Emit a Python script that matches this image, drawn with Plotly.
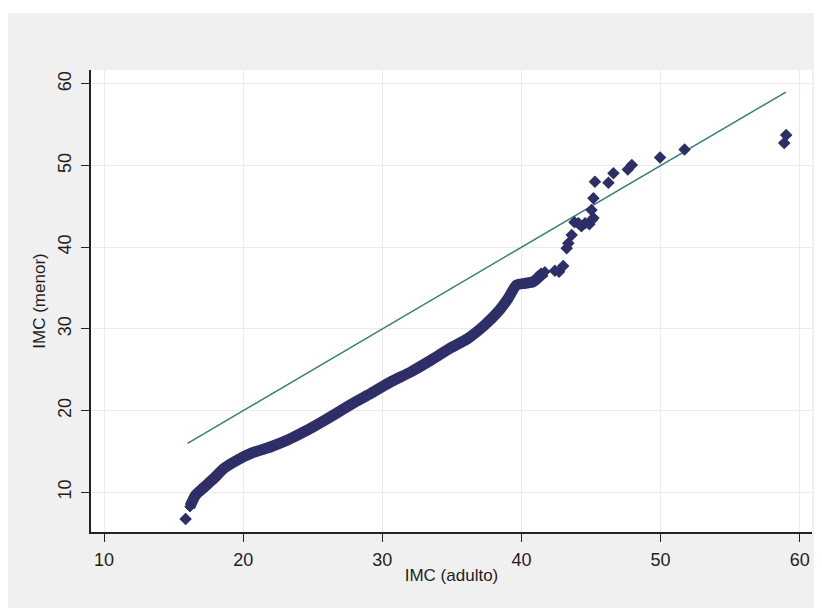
import plotly.graph_objects as go

# Quantiles (dense body of the Q-Q curve)
body_x = [16.17, 16.58, 17.18, 17.90, 18.62, 19.59, 20.55, 21.99, 23.19, 24.39,
          25.83, 27.75, 29.19, 30.63, 32.07, 33.51, 34.95, 36.16, 37.36, 38.32,
          39.04, 39.64, 40.24, 40.84, 41.32, 41.68]
body_y = [8.24, 9.67, 10.61, 11.71, 12.94, 13.95, 14.77, 15.58, 16.40, 17.42,
          18.80, 20.75, 22.12, 23.54, 24.76, 26.19, 27.72, 28.85, 30.48, 32.11,
          33.75, 35.37, 35.58, 35.78, 36.48, 37.00]

# Isolated quantile points (tails)
tail_x = [15.86, 42.40, 42.70, 43.00, 43.25, 43.37, 43.61, 43.81, 44.09, 44.31,
          44.57, 44.88, 45.06, 45.17, 45.03, 45.17, 45.28, 46.25, 46.61, 47.64,
          47.93, 49.96, 51.72, 58.88, 59.02]
tail_y = [6.73, 37.12, 37.00, 37.70, 39.87, 40.48, 41.49, 43.07, 42.93, 42.58,
          42.93, 42.83, 43.33, 43.57, 44.56, 45.99, 48.02, 47.90, 49.05, 49.53,
          50.06, 51.00, 51.98, 52.75, 53.73]

# Reference (45 degree) line
ref_x = [16.0, 59.0]
ref_y = [16.0, 59.0]

x_ticks = [10, 20, 30, 40, 50, 60]
y_ticks = [10, 20, 30, 40, 50, 60]

MARK = "rgb(46,46,104)"
LINE = "rgb(56,128,116)"
FONT = "Liberation Sans, Arial, sans-serif"
TXT = "#1e1e1e"

fig = go.Figure()
fig.add_trace(go.Scatter(x=ref_x, y=ref_y, mode="lines",
                         line=dict(color=LINE, width=1.5), showlegend=False,
                         hoverinfo="skip"))
fig.add_trace(go.Scatter(x=body_x, y=body_y, mode="lines+markers",
                         line=dict(color=MARK, width=11, shape="spline",
                                   smoothing=0.6),
                         marker=dict(symbol="diamond", size=8, color=MARK,
                                     line=dict(color=MARK, width=1)),
                         showlegend=False))
fig.add_trace(go.Scatter(x=tail_x, y=tail_y, mode="markers",
                         marker=dict(symbol="diamond", size=8, color=MARK,
                                     line=dict(color=MARK, width=1.5)),
                         showlegend=False))

# page body has an 8px margin, so the figure is sized to fit the window
W, H = 814, 600
L, R, T, B = 83, 10, 62, 76
pw, ph = W - L - R, H - T - B

shapes = [
    # thin white strip at the very top of the canvas
    dict(type="rect", xref="paper", yref="paper", layer="below",
         x0=-L / pw, x1=(W - L) / pw, y0=1 + (T - 5) / ph, y1=1 + T / ph,
         fillcolor="white", line=dict(width=0)),
]

axis_common = dict(
    showline=True, linecolor="#222222", linewidth=1.5,
    ticks="outside", ticklen=8, tickwidth=1.2, tickcolor="#222222",
    showgrid=True, gridcolor="#ebebeb", gridwidth=1,
    zeroline=False, tickfont=dict(family=FONT, size=18, color=TXT),
)

fig.update_layout(
    width=W, height=H,
    margin=dict(l=L, r=R, t=T, b=B),
    paper_bgcolor="#f0f0f0", plot_bgcolor="white",
    shapes=shapes,
    xaxis=dict(range=[9.06, 60.88], tickvals=x_ticks,
               title=dict(text="IMC (adulto)", standoff=0,
                          font=dict(family=FONT, size=17, color=TXT)),
               ticklabelstandoff=3, **axis_common),
    yaxis=dict(range=[5.14, 61.7], tickvals=y_ticks, tickangle=-90,
               title=dict(text="IMC (menor)", standoff=5,
                          font=dict(family=FONT, size=17, color=TXT)),
               ticklabelstandoff=3, **axis_common),
)

fig.write_html("out.html")
